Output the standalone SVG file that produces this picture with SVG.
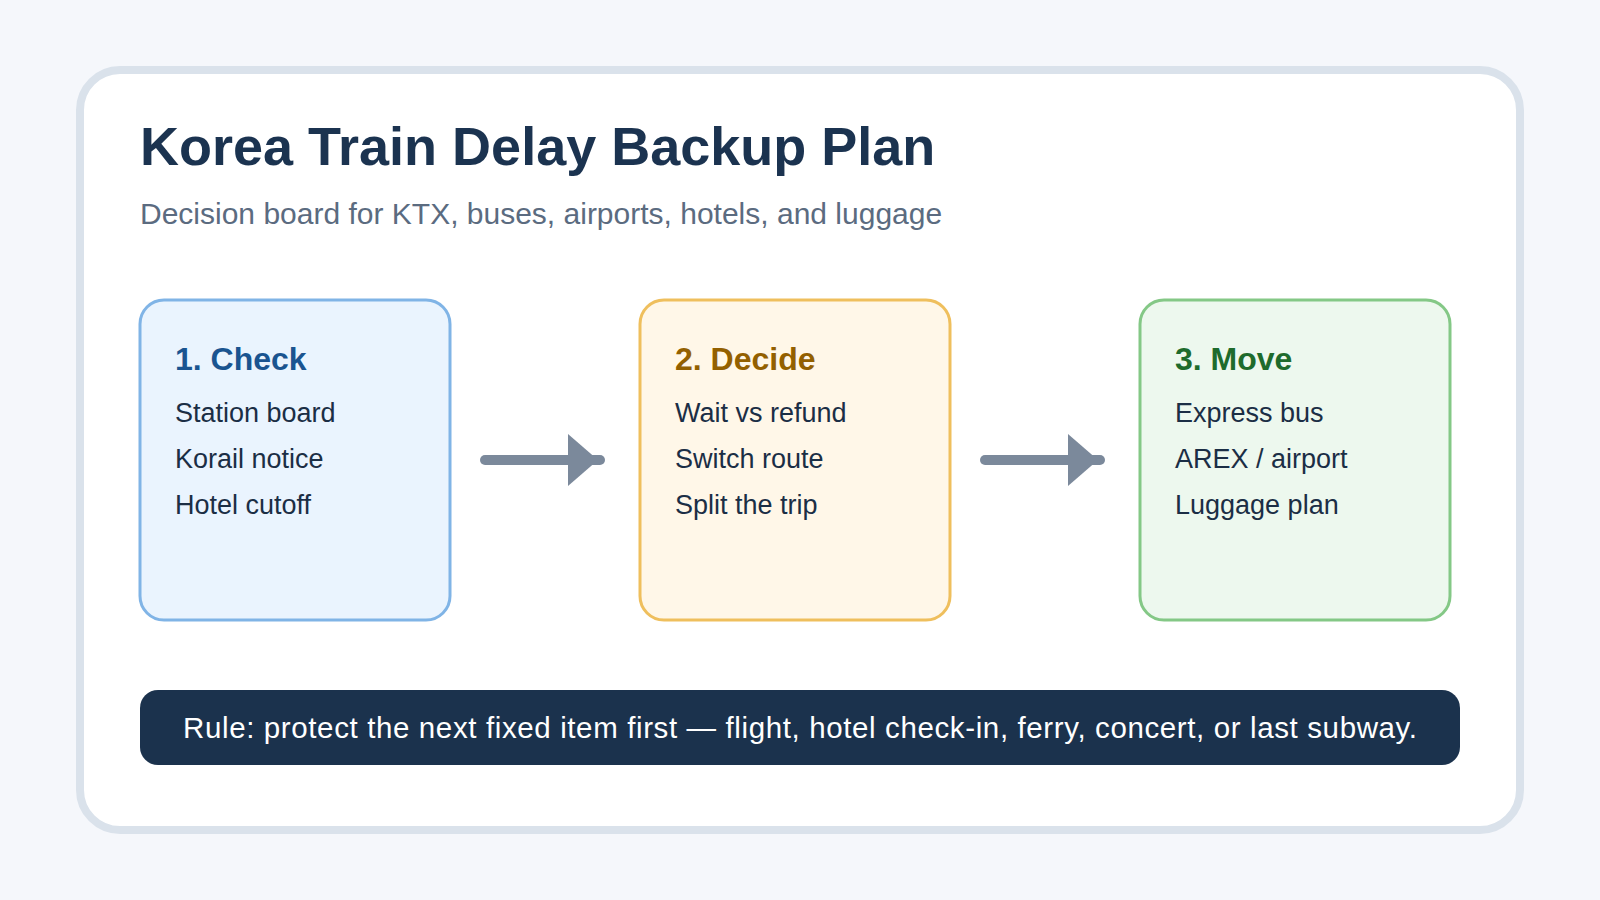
<svg xmlns="http://www.w3.org/2000/svg" width="1600" height="900" viewBox="0 0 1600 900">
  <style>
    text { font-family: "Liberation Sans", Arial, sans-serif; }
    .title { font-size: 54px; font-weight: bold; fill: #1b3350; }
    .sub { font-size: 30px; fill: #5b6b80; }
    .head { font-size: 32px; font-weight: bold; }
    .item { font-size: 27px; fill: #1b2e45; }
    .conn { stroke: #7b899b; stroke-width: 10; stroke-linecap: round; fill: none; }
    .rule { font-size: 29.5px; fill: #ffffff; }
  </style>
  <rect x="0" y="0" width="1600" height="900" fill="#f5f7fb"/>
  <rect x="80" y="70" width="1440" height="760" rx="40" ry="40" fill="#ffffff" stroke="#dae2eb" stroke-width="8"/>
  <text class="title" x="140" y="165">Korea Train Delay Backup Plan</text>
  <text class="sub" x="140" y="224">Decision board for KTX, buses, airports, hotels, and luggage</text>

  <g id="node-check">
    <rect x="140" y="300" width="310" height="320" rx="24" ry="24" fill="#eaf4fe" stroke="#80b4e6" stroke-width="3"/>
    <text class="head" x="175" y="370" fill="#1a5490">1. Check</text>
    <text class="item" x="175" y="422">Station board</text>
    <text class="item" x="175" y="468">Korail notice</text>
    <text class="item" x="175" y="514">Hotel cutoff</text>
  </g>
  <g id="node-decide">
    <rect x="640" y="300" width="310" height="320" rx="24" ry="24" fill="#fff7e8" stroke="#efbf5d" stroke-width="3"/>
    <text class="head" x="675" y="370" fill="#936000">2. Decide</text>
    <text class="item" x="675" y="422">Wait vs refund</text>
    <text class="item" x="675" y="468">Switch route</text>
    <text class="item" x="675" y="514">Split the trip</text>
  </g>
  <g id="node-move">
    <rect x="1140" y="300" width="310" height="320" rx="24" ry="24" fill="#edf8ee" stroke="#84c886" stroke-width="3"/>
    <text class="head" x="1175" y="370" fill="#1e6b2c">3. Move</text>
    <text class="item" x="1175" y="422">Express bus</text>
    <text class="item" x="1175" y="468">AREX / airport</text>
    <text class="item" x="1175" y="514">Luggage plan</text>
  </g>

  <g id="connectors">
    <line class="conn" x1="485" y1="460" x2="600" y2="460"/>
    <path d="M568,434 L598,460 L568,486 Z" fill="#7b899b"/>
    <line class="conn" x1="985" y1="460" x2="1100" y2="460"/>
    <path d="M1068,434 L1098,460 L1068,486 Z" fill="#7b899b"/>
  </g>

  <g id="rule">
    <rect x="140" y="690" width="1320" height="75" rx="18" ry="18" fill="#1b324d"/>
    <text class="rule" x="800" y="738" text-anchor="middle" textLength="1234" lengthAdjust="spacing">Rule: protect the next fixed item first — flight, hotel check-in, ferry, concert, or last subway.</text>
  </g>
</svg>
